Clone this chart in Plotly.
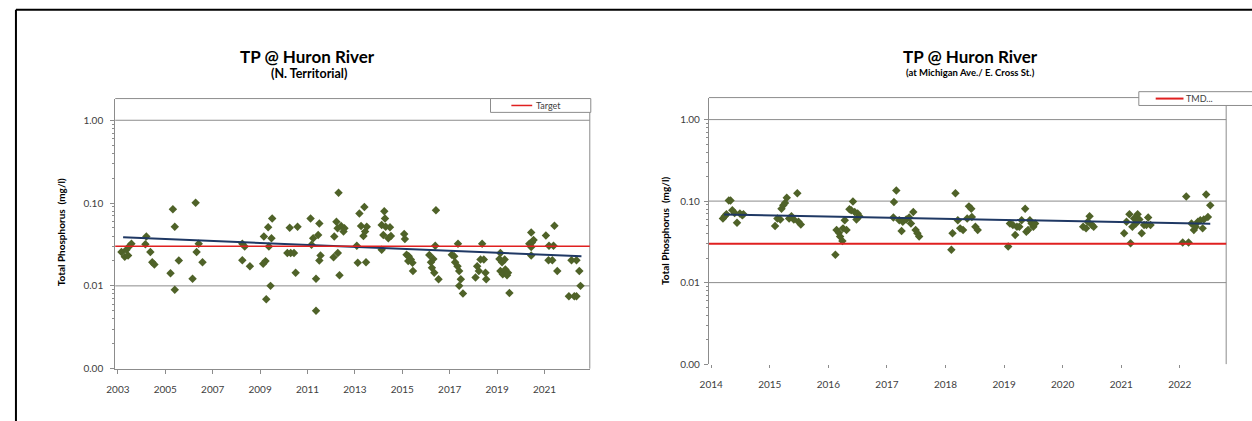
import plotly.graph_objects as go

# ---------------- data ----------------
# Left chart: TP @ Huron River (N. Territorial)
nt_year = [2003.15, 2003.29, 2003.36, 2003.43, 2003.47, 2003.57, 2004.16, 2004.20, 2004.37, 2004.45,
           2004.54, 2005.22, 2005.32, 2005.40, 2005.40, 2005.57, 2006.15, 2006.28, 2006.32, 2006.41,
           2006.57, 2008.25, 2008.25, 2008.35, 2008.57, 2009.13, 2009.16, 2009.23, 2009.26, 2009.34,
           2009.37, 2009.44, 2009.48, 2009.51, 2010.15, 2010.25, 2010.29, 2010.43, 2010.50, 2010.58,
           2011.13, 2011.17, 2011.24, 2011.36, 2011.36, 2011.45, 2011.50, 2011.50, 2011.55, 2012.10,
           2012.13, 2012.22, 2012.27, 2012.28, 2012.31, 2012.35, 2012.42, 2012.52, 2012.56, 2013.08,
           2013.12, 2013.19, 2013.26, 2013.36, 2013.40, 2013.43, 2013.47, 2013.50, 2014.13, 2014.13,
           2014.20, 2014.24, 2014.27, 2014.30, 2014.41, 2014.48, 2014.52, 2015.08, 2015.11, 2015.18,
           2015.25, 2015.27, 2015.36, 2015.43, 2015.45, 2016.14, 2016.21, 2016.25, 2016.31, 2016.35,
           2016.39, 2016.42, 2016.53, 2017.09, 2017.19, 2017.23, 2017.33, 2017.35, 2017.40, 2017.40,
           2017.47, 2017.56, 2018.09, 2018.16, 2018.23, 2018.30, 2018.37, 2018.44, 2018.51, 2018.54,
           2019.10, 2019.14, 2019.14, 2019.21, 2019.24, 2019.32, 2019.35, 2019.42, 2019.46, 2019.52,
           2020.36, 2020.44, 2020.44, 2020.44, 2020.47, 2020.54, 2021.06, 2021.17, 2021.19, 2021.33,
           2021.38, 2021.42, 2021.54, 2022.03, 2022.14, 2022.26, 2022.35, 2022.35, 2022.47, 2022.52]
nt_tp = [0.0256, 0.0224, 0.0273, 0.0232, 0.0299, 0.0322, 0.0319, 0.0394, 0.0256, 0.0193,
         0.0181, 0.0142, 0.0840, 0.0518, 0.0090, 0.0202, 0.0122, 0.1010, 0.0256, 0.0322,
         0.0193, 0.0322, 0.0204, 0.0299, 0.0173, 0.0185, 0.0394, 0.0199, 0.0069, 0.0509,
         0.0299, 0.0100, 0.0376, 0.0650, 0.0249, 0.0504, 0.0249, 0.0249, 0.0144, 0.0518,
         0.0650, 0.0313, 0.0376, 0.0122, 0.0050, 0.0412, 0.0567, 0.0202, 0.0232, 0.0221,
         0.0394, 0.0594, 0.0495, 0.0249, 0.1330, 0.0134, 0.0527, 0.0452, 0.0495, 0.0305,
         0.0190, 0.0746, 0.0527, 0.0401, 0.0896, 0.0452, 0.0193, 0.0518, 0.0542, 0.0273,
         0.0412, 0.0796, 0.0650, 0.0518, 0.0376, 0.0509, 0.0401, 0.0424, 0.0369, 0.0238,
         0.0199, 0.0228, 0.0208, 0.0190, 0.0151, 0.0236, 0.0193, 0.0165, 0.0211, 0.0144,
         0.0305, 0.0818, 0.0120, 0.0238, 0.0228, 0.0193, 0.0173, 0.0322, 0.0151, 0.0100,
         0.0120, 0.0081, 0.0126, 0.0173, 0.0151, 0.0208, 0.0322, 0.0208, 0.0144, 0.0120,
         0.0211, 0.0249, 0.0151, 0.0193, 0.0138, 0.0208, 0.0158, 0.0134, 0.0144, 0.0082,
         0.0322, 0.0440, 0.0294, 0.0232, 0.0334, 0.0359, 0.0405, 0.0204, 0.0305, 0.0204,
         0.0305, 0.0532, 0.0151, 0.0075, 0.0204, 0.0075, 0.0204, 0.0075, 0.0151, 0.0100]
nt_trend_year = [2003.22, 2022.56]
nt_trend_tp = [0.0386, 0.0228]

# Right chart: TP @ Huron River (at Michigan Ave./ E. Cross St.)
mi_year = [2014.20, 2014.23, 2014.26, 2014.30, 2014.33, 2014.36, 2014.40, 2014.44, 2014.49, 2014.53,
           2014.55, 2015.09, 2015.13, 2015.18, 2015.20, 2015.23, 2015.26, 2015.29, 2015.33, 2015.37,
           2015.41, 2015.47, 2015.49, 2015.53, 2016.12, 2016.14, 2016.18, 2016.20, 2016.24, 2016.25,
           2016.28, 2016.31, 2016.36, 2016.39, 2016.42, 2016.45, 2016.48, 2016.50, 2016.53, 2017.11,
           2017.12, 2017.16, 2017.21, 2017.25, 2017.27, 2017.33, 2017.38, 2017.41, 2017.45, 2017.49,
           2017.52, 2017.55, 2018.10, 2018.12, 2018.17, 2018.21, 2018.25, 2018.30, 2018.37, 2018.40,
           2018.44, 2018.45, 2018.51, 2018.55, 2019.07, 2019.10, 2019.15, 2019.19, 2019.22, 2019.26,
           2019.30, 2019.36, 2019.38, 2019.41, 2019.44, 2019.47, 2019.50, 2019.53, 2020.35, 2020.40,
           2020.43, 2020.46, 2020.50, 2020.53, 2021.05, 2021.09, 2021.14, 2021.16, 2021.19, 2021.22,
           2021.25, 2021.28, 2021.31, 2021.35, 2021.39, 2021.43, 2021.46, 2021.50, 2022.05, 2022.11,
           2022.15, 2022.20, 2022.24, 2022.27, 2022.31, 2022.35, 2022.39, 2022.41, 2022.45, 2022.48,
           2022.52]
mi_tp = [0.0611, 0.0653, 0.0690, 0.1019, 0.1019, 0.0771, 0.0716, 0.0542, 0.0703, 0.0671,
         0.0690, 0.0494, 0.0611, 0.0595, 0.0807, 0.0887, 0.0946, 0.1097, 0.0611, 0.0653,
         0.0595, 0.1250, 0.0557, 0.0517, 0.0220, 0.0442, 0.0410, 0.0367, 0.0325, 0.0463,
         0.0584, 0.0442, 0.0793, 0.0771, 0.0991, 0.0736, 0.0595, 0.0703, 0.0653, 0.0629,
         0.0973, 0.1346, 0.0584, 0.0430, 0.0557, 0.0595, 0.0629, 0.0532, 0.0736, 0.0442,
         0.0403, 0.0367, 0.0253, 0.0403, 0.1250, 0.0584, 0.0463, 0.0442, 0.0611, 0.0862,
         0.0807, 0.0640, 0.0485, 0.0442, 0.0278, 0.0532, 0.0508, 0.0385, 0.0485, 0.0485,
         0.0584, 0.0807, 0.0422, 0.0442, 0.0584, 0.0532, 0.0485, 0.0532, 0.0485, 0.0463,
         0.0557, 0.0653, 0.0508, 0.0485, 0.0403, 0.0557, 0.0690, 0.0305, 0.0485, 0.0611,
         0.0532, 0.0690, 0.0595, 0.0403, 0.0508, 0.0508, 0.0629, 0.0508, 0.0310, 0.1138,
         0.0310, 0.0532, 0.0442, 0.0485, 0.0557, 0.0584, 0.0463, 0.0595, 0.1205, 0.0640,
         0.0887]
mi_trend_year = [2014.22, 2022.52]
mi_trend_tp = [0.0684, 0.0527]

target_tp = 0.03
nt_legend_label = "Target"
mi_legend_label = "TMD..."

y_tickvals = [0.001, 0.01, 0.1, 1.0]
y_ticktext = ["0.00", "0.01", "0.10", "1.00"]
y_minor = [k * 10.0 ** e for e in (-3, -2, -1) for k in range(2, 10)]
nt_xticks = list(range(2003, 2022, 2))
mi_xticks = list(range(2014, 2023))
nt_gridlines = [0.01, 1.0]
mi_gridlines = [0.01, 0.1, 1.0]

# ---------------- layout helpers ----------------
W, H = 1252, 421
FONT = "Lato, 'Open Sans', sans-serif"
MARK = "#4F6228"
TREND = "#1F3864"
RED = "#E02020"
AXC = "#8C8C8C"
TXT = "#404040"


def px(x):
    return x / W


def py(y):
    return 1 - y / H


fig = go.Figure()

fig.add_trace(go.Scatter(x=nt_year, y=nt_tp, mode="markers", xaxis="x", yaxis="y",
                         marker=dict(symbol="diamond", size=6.5, color=MARK),
                         showlegend=False, name="TP"))
fig.add_trace(go.Scatter(x=nt_trend_year, y=nt_trend_tp, mode="lines", xaxis="x", yaxis="y",
                         line=dict(color=TREND, width=2), showlegend=False, name="Trend"))
fig.add_trace(go.Scatter(x=mi_year, y=mi_tp, mode="markers", xaxis="x2", yaxis="y2",
                         marker=dict(symbol="diamond", size=6.5, color=MARK),
                         showlegend=False, name="TP"))
fig.add_trace(go.Scatter(x=mi_trend_year, y=mi_trend_tp, mode="lines", xaxis="x2", yaxis="y2",
                         line=dict(color=TREND, width=2), showlegend=False, name="Trend"))

shapes = []
# gridlines
for g in nt_gridlines:
    shapes.append(dict(type="line", xref="x domain", yref="y", x0=0, x1=1, y0=g, y1=g,
                       line=dict(color=AXC, width=1), layer="below"))
for g in mi_gridlines:
    shapes.append(dict(type="line", xref="x2 domain", yref="y2", x0=0, x1=1, y0=g, y1=g,
                       line=dict(color=AXC, width=1), layer="below"))
# plot-area top/right borders
for xr, yr in (("x domain", "y domain"), ("x2 domain", "y2 domain")):
    shapes.append(dict(type="line", xref=xr, yref=yr, x0=0, x1=1, y0=1, y1=1,
                       line=dict(color=AXC, width=1)))
    shapes.append(dict(type="line", xref=xr, yref=yr, x0=1, x1=1, y0=0, y1=1,
                       line=dict(color=AXC, width=1)))
# target lines
shapes.append(dict(type="line", xref="x domain", yref="y", x0=0, x1=1, y0=target_tp, y1=target_tp,
                   line=dict(color=RED, width=1.5)))
shapes.append(dict(type="line", xref="x2 domain", yref="y2", x0=0, x1=1, y0=target_tp, y1=target_tp,
                   line=dict(color=RED, width=2)))
# legend boxes (Excel style) with sample lines
shapes.append(dict(type="rect", xref="paper", yref="paper", x0=px(485), x1=px(586), y0=py(114), y1=py(100),
                   fillcolor="white", line=dict(color=AXC, width=1)))
shapes.append(dict(type="line", xref="paper", yref="paper", x0=px(506), x1=px(527), y0=py(107), y1=py(107),
                   line=dict(color=RED, width=1.5)))
shapes.append(dict(type="rect", xref="paper", yref="paper", x0=px(1138), x1=px(1256), y0=py(107), y1=py(93),
                   fillcolor="white", line=dict(color=AXC, width=1)))
shapes.append(dict(type="line", xref="paper", yref="paper", x0=px(1155), x1=px(1183), y0=py(100), y1=py(100),
                   line=dict(color=RED, width=2)))
# outer frame (top and left edges)
shapes.append(dict(type="line", xref="paper", yref="paper", x0=px(7), x1=1.01, y0=py(10), y1=py(10),
                   line=dict(color="black", width=2)))
shapes.append(dict(type="line", xref="paper", yref="paper", x0=px(7), x1=px(7), y0=-0.05, y1=py(10),
                   line=dict(color="black", width=2)))


def ann(text, x, y, size, angle=0, xanchor="center", color="black"):
    return dict(text=text, x=px(x), y=py(y), xref="paper", yref="paper", showarrow=False,
                xanchor=xanchor, yanchor="middle", textangle=angle,
                font=dict(size=size, color=color, family=FONT))


annotations = [
    ann("<b>TP @ Huron River</b>", 301, 57, 17),
    ann("<b>(N. Territorial)</b>", 302, 75, 12.5),
    ann("<b>TP @ Huron River</b>", 968, 57, 17),
    ann("<b>(at Michigan Ave./ E. Cross St.)</b>", 968, 74, 9.5),
    ann("<b>Total Phosphorus  (mg/l)</b>", 52, 236, 10, angle=-90),
    ann("<b>Total Phosphorus  (mg/l)</b>", 660, 234, 10, angle=-90),
    ann(nt_legend_label, 529, 107, 9, xanchor="left", color=TXT),
    ann(mi_legend_label, 1184, 100, 9, xanchor="left", color=TXT),
]

yaxis_common = dict(type="log", tickmode="array", tickvals=y_tickvals, ticktext=y_ticktext,
                    showgrid=False, zeroline=False, showline=True, linecolor=AXC, linewidth=1,
                    ticks="outside", ticklen=4, tickcolor=AXC,
                    minor=dict(tickvals=y_minor, ticks="outside", ticklen=2, tickcolor=AXC, showgrid=False),
                    tickfont=dict(size=10, color=TXT, family=FONT))

fig.update_layout(
    width=W, height=H,
    margin=dict(l=0, r=0, t=0, b=0),
    paper_bgcolor="white", plot_bgcolor="white",
    showlegend=False,
    xaxis=dict(domain=[px(107), px(585)], range=[2002.887, 2022.912], anchor="y",
               tickmode="array", tickvals=nt_xticks, ticktext=[str(v) for v in nt_xticks],
               showgrid=False, zeroline=False, showline=True, linecolor=AXC, linewidth=1,
               ticks="outside", ticklen=4, tickcolor=AXC, ticklabelstandoff=7,
               tickfont=dict(size=10, color=TXT, family=FONT)),
    yaxis=dict(domain=[py(374), py(100)], range=[-3, 0.262], anchor="x", ticklabelstandoff=5,
               **yaxis_common),
    xaxis2=dict(domain=[px(705), px(1226)], range=[2013.961, 2022.792], anchor="y2",
                tickmode="array", tickvals=mi_xticks, ticktext=[str(v) for v in mi_xticks],
                showgrid=False, zeroline=False, showline=False,
                ticks="outside", ticklen=3, tickcolor=AXC, ticklabelstandoff=8,
                tickfont=dict(size=10, color=TXT, family=FONT)),
    yaxis2=dict(domain=[py(369.4), py(99)], range=[-3, 0.27], anchor="x2", ticklabelstandoff=2,
                **yaxis_common),
    shapes=shapes,
    annotations=annotations,
)

fig.write_html("out.html", config={"displayModeBar": False},
               post_script="document.body.style.margin='0px';")
